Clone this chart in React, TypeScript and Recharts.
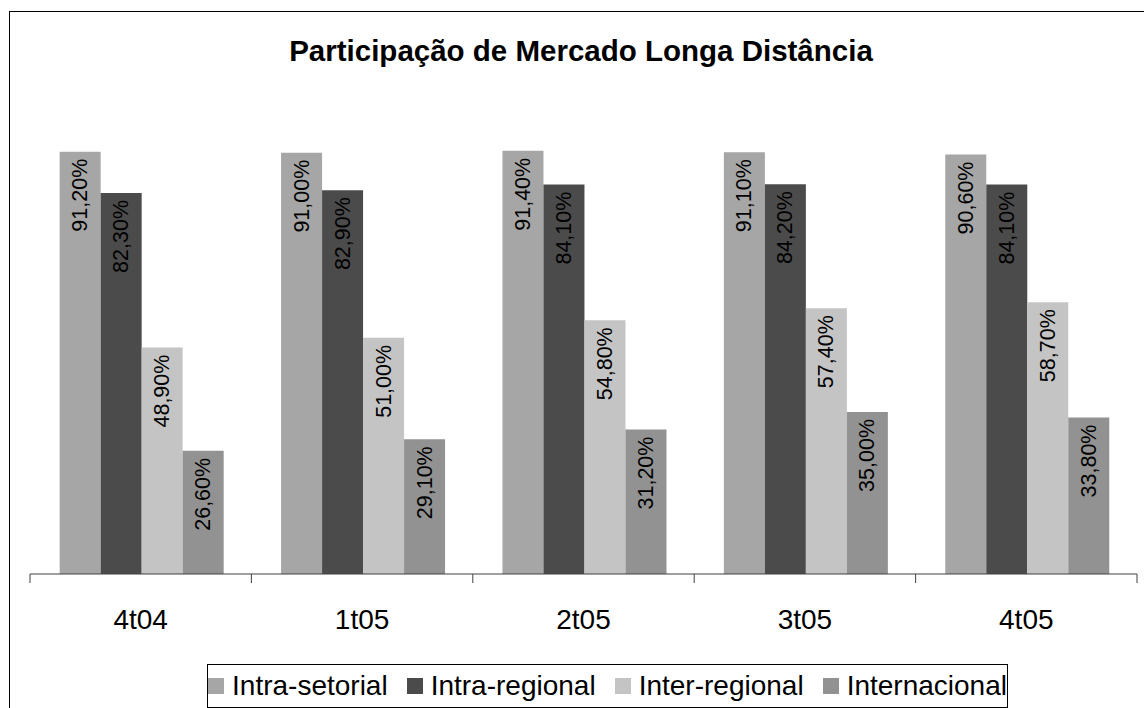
import { BarChart, Bar, XAxis, YAxis, LabelList } from "recharts";

const quarters = ["4t04", "1t05", "2t05", "3t05", "4t05"];
const intraSetorial = [91.2, 91.0, 91.4, 91.1, 90.6];
const intraRegional = [82.3, 82.9, 84.1, 84.2, 84.1];
const interRegional = [48.9, 51.0, 54.8, 57.4, 58.7];
const internacional = [26.6, 29.1, 31.2, 35.0, 33.8];

const seriesNames = ["Intra-setorial", "Intra-regional", "Inter-regional", "Internacional"];
const seriesKeys = ["intraSetorial", "intraRegional", "interRegional", "internacional"];
const seriesColors = ["#a6a6a6", "#4b4b4b", "#c4c4c4", "#929292"];

const data = quarters.map((q, i) => ({
  q,
  intraSetorial: intraSetorial[i],
  intraRegional: intraRegional[i],
  interRegional: interRegional[i],
  internacional: internacional[i],
}));

const FONT = "'Liberation Sans', Arial, sans-serif";
const W = 1144;
const H = 708;
const M = { top: 111, right: 7, bottom: 94, left: 30 };
const BAND = (W - M.left - M.right) / quarters.length;

const fmt = (v: number) => v.toFixed(2).replace(".", ",") + "%";

function BarLabel(props: any) {
  const { x, y, width, value } = props;
  const cx = x + width / 2;
  const cy = y + 7;
  return (
    <text
      x={cx}
      y={cy}
      transform={`rotate(-90 ${cx} ${cy})`}
      textAnchor="end"
      dominantBaseline="central"
      fontSize={21.5}
      fontFamily={FONT}
      fill="#000"
    >
      {fmt(value)}
    </text>
  );
}

function QuarterTick(props: any) {
  const { x, y, payload, index } = props;
  const left = x - BAND / 2;
  const right = x + BAND / 2;
  return (
    <g>
      <line x1={left} x2={left} y1={y} y2={y + 9} stroke="#404040" />
      {index === quarters.length - 1 && (
        <line x1={right} x2={right} y1={y} y2={y + 9} stroke="#404040" />
      )}
      <text x={x} y={y + 55} textAnchor="middle" fontSize={28} fontFamily={FONT} fill="#000">
        {payload.value}
      </text>
    </g>
  );
}

export default function App() {
  return (
    <div
      style={{
        position: "absolute",
        left: 0,
        top: 0,
        width: W,
        height: H,
        overflow: "hidden",
        background: "#fff",
        fontFamily: FONT,
      }}
    >
      <div
        style={{
          position: "absolute",
          left: 9,
          top: 11,
          width: W + 20,
          height: H + 20,
          borderTop: "1px solid #000",
          borderLeft: "1px solid #000",
        }}
      />
      <div
        style={{
          position: "absolute",
          left: 0,
          top: 33,
          width: 1162,
          textAlign: "center",
          fontWeight: "bold",
          fontSize: 29.5,
          lineHeight: "36px",
          color: "#000",
        }}
      >
        Participação de Mercado Longa Distância
      </div>
      <div style={{ position: "absolute", left: 0, top: 0 }}>
        <BarChart width={W} height={H} data={data} margin={M} barCategoryGap="13.4%" barGap={0}>
          <XAxis
            dataKey="q"
            height={40}
            axisLine={{ stroke: "#404040" }}
            tickLine={false}
            tickSize={0}
            tickMargin={0}
            tick={<QuarterTick />}
            interval={0}
          />
          <YAxis hide domain={[0, 100]} />
          {seriesKeys.map((k, i) => (
            <Bar key={k} dataKey={k} name={seriesNames[i]} fill={seriesColors[i]} isAnimationActive={false}>
              <LabelList dataKey={k} content={<BarLabel />} />
            </Bar>
          ))}
        </BarChart>
      </div>
      <div
        style={{
          position: "absolute",
          left: 207,
          top: 664,
          width: 801,
          height: 44,
          boxSizing: "border-box",
          border: "1px solid #000",
          display: "flex",
          alignItems: "center",
          justifyContent: "center",
          gap: 19,
          fontSize: 28,
          color: "#000",
          whiteSpace: "nowrap",
        }}
      >
        {seriesNames.map((n, i) => (
          <div key={n} style={{ display: "flex", alignItems: "center" }}>
            <span
              style={{
                display: "inline-block",
                width: 16,
                height: 16,
                background: seriesColors[i],
                marginRight: 8,
              }}
            />
            <span>{n}</span>
          </div>
        ))}
      </div>
    </div>
  );
}
